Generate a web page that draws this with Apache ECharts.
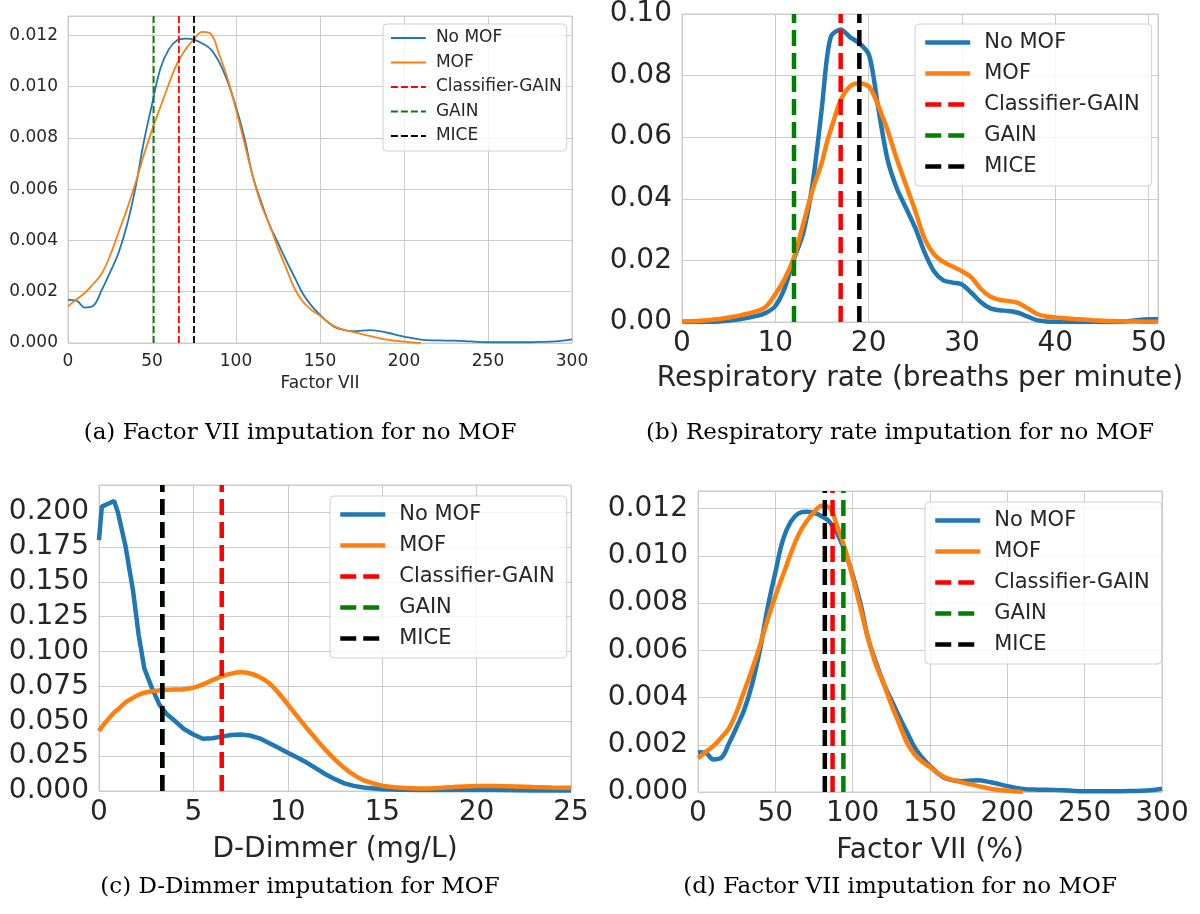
<!DOCTYPE html>
<html>
<head>
<meta charset="utf-8">
<script src="https://cdn.jsdelivr.net/npm/echarts/dist/echarts.min.js"></script>
<style>
  body { margin: 0; background: #fff; }
  .panel { position: absolute; width: 600px; height: 457px; }
</style>
</head>
<body>
<div id="chartA" class="panel" style="left:0;top:0"></div>
<div id="chartB" class="panel" style="left:600px;top:0"></div>
<div id="chartC" class="panel" style="left:0;top:457px"></div>
<div id="chartD" class="panel" style="left:600px;top:457px"></div>
<script>
// ---- data ----
var curveNames = ['No MOF', 'MOF'];
var methodNames = ['Classifier-GAIN', 'GAIN', 'MICE'];

// Factor VII density (panels a and d)
var factorX = [0, 5, 10, 15, 20, 25, 30, 35, 40, 45, 50, 55, 60, 65, 70, 75, 80, 85, 90, 95, 100, 105, 110, 115, 120, 125, 130, 135, 140, 145, 150, 155, 160, 170, 180, 190, 200, 210, 220, 230, 240, 250, 260, 270, 280, 290, 300];
var factorNoMof = [0.00168, 0.00165, 0.00138, 0.00145, 0.00205, 0.00275, 0.0035, 0.00457, 0.0060, 0.0078, 0.0093, 0.0107, 0.01145, 0.0118, 0.01187, 0.01183, 0.01168, 0.01145, 0.01095, 0.0102, 0.0092, 0.0080, 0.0065, 0.0055, 0.0046, 0.0039, 0.0032, 0.00255, 0.0019, 0.00145, 0.0011, 0.0008, 0.00058, 0.00046, 0.0005, 0.0004, 0.00025, 0.00013, 0.0001, 0.00009, 0.00006, 0.00003, 0.00003, 0.00003, 0.00004, 0.00006, 0.00014];
var factorMof = [0.00143, 0.0017, 0.00195, 0.0023, 0.0027, 0.0034, 0.0043, 0.0052, 0.0062, 0.0073, 0.0083, 0.0092, 0.0101, 0.0109, 0.01145, 0.01185, 0.01213, 0.01205, 0.01125, 0.0103, 0.0091, 0.0078, 0.0065, 0.0054, 0.0046, 0.0037, 0.0029, 0.0021, 0.0016, 0.00128, 0.00106, 0.0008, 0.00061, 0.00042, 0.00027, 0.00013, 0.00005, 0.0, null, null, null, null, null, null, null, null, null];

// Respiratory rate density (panel b)
var respX = [0, 2, 4, 6, 8, 9, 10, 11, 12, 13, 14, 15, 15.5, 16, 17, 18, 19, 20, 20.5, 21, 22, 23, 24, 25, 26, 27, 28, 29, 30, 31, 32, 33, 34, 35, 36, 37, 38, 39, 40, 42, 44, 46, 48, 50, 51];
var respNoMof = [0, 0, 0.0002, 0.0008, 0.002, 0.003, 0.0052, 0.011, 0.0205, 0.029, 0.045, 0.07, 0.085, 0.093, 0.095, 0.0925, 0.0905, 0.087, 0.08, 0.07, 0.053, 0.0435, 0.037, 0.0305, 0.0225, 0.0165, 0.0135, 0.0128, 0.0122, 0.0095, 0.0065, 0.0045, 0.0038, 0.0036, 0.003, 0.0018, 0.0006, 0.0002, 0.0001, 0, 0, 0, 0.0003, 0.0009, 0.0009];
var respMof = [0.0002, 0.0004, 0.001, 0.002, 0.0035, 0.005, 0.009, 0.014, 0.021, 0.032, 0.043, 0.052, 0.058, 0.063, 0.072, 0.0765, 0.0775, 0.0765, 0.074, 0.0705, 0.0625, 0.053, 0.0445, 0.036, 0.027, 0.022, 0.0195, 0.018, 0.0165, 0.0145, 0.0108, 0.0083, 0.0072, 0.0068, 0.0062, 0.0045, 0.0027, 0.0018, 0.0015, 0.001, 0.0006, 0.0003, 0.0002, 0.0001, 0.0001];

// D-Dimmer density (panel c)
var ddX = [0, 0.15, 0.8, 1.0, 1.4, 1.8, 2.1, 2.4, 2.8, 3.2, 3.6, 4, 4.5, 5, 5.5, 6, 6.5, 7, 7.5, 8, 8.5, 9, 9.5, 10, 10.5, 11, 11.5, 12, 12.5, 13, 13.5, 14, 15, 16, 17, 18, 19, 20, 21, 22, 23, 24, 25];
var ddNoMof = [0.18, 0.204, 0.208, 0.2, 0.176, 0.144, 0.112, 0.088, 0.074, 0.062, 0.055, 0.0505, 0.0445, 0.0405, 0.0375, 0.0378, 0.039, 0.0402, 0.0406, 0.0398, 0.0378, 0.0345, 0.031, 0.0275, 0.024, 0.0204, 0.0162, 0.012, 0.0085, 0.0055, 0.0037, 0.0025, 0.0013, 0.0009, 0.0007, 0.0007, 0.0008, 0.0008, 0.0007, 0.0005, 0.0004, 0.0003, 0.0003];
var ddMof = [0.0431, 0.046, 0.0563, 0.0585, 0.0635, 0.0668, 0.069, 0.0705, 0.0716, 0.0722, 0.0726, 0.0728, 0.073, 0.0742, 0.0765, 0.0795, 0.0822, 0.0842, 0.0851, 0.0843, 0.0818, 0.0775, 0.0705, 0.0622, 0.0535, 0.0452, 0.0372, 0.0295, 0.0225, 0.0165, 0.0115, 0.0078, 0.0038, 0.0023, 0.0018, 0.0022, 0.0031, 0.0036, 0.0035, 0.0032, 0.0028, 0.0025, 0.0023];

// imputed values, order = methodNames
var factorImpA = [66, 51, 75];
var respImp = [17, 12, 19];
var ddImp = [6.5, 3.35, 3.35];
var factorImpD = [87, 94, 82];

// ---- styling ----
var curveColors = ['#1f77b4', '#ff7f0e'];
var methodColors = ['#ff0000', '#008000', '#000000'];

function pairs(xs, ys) {
    var out = [];
    for (var i = 0; i < xs.length; i++) {
        if (ys[i] !== null) out.push([xs[i], ys[i]]);
    }
    return out;
}

function buildOption(c) {
    var series = [];
    [c.blue, c.orange].forEach(function (ys, i) {
        series.push({
            name: curveNames[i],
            type: 'line',
            data: pairs(c.xs, ys),
            showSymbol: false, symbol: 'none',
            smooth: c.smooth[i],
            lineStyle: { color: curveColors[i], width: c.lineWidth },
            itemStyle: { color: curveColors[i] }
        });
    });
    c.imp.forEach(function (v, i) {
        series.push({
            name: methodNames[i],
            type: 'line',
            data: [[v, 0], [v, c.yMax]],
            showSymbol: false, symbol: 'none',
            lineStyle: { color: methodColors[i], width: c.lineWidth, type: c.dash },
            itemStyle: { color: methodColors[i] }
        });
    });
    return {
        animation: false,
        title: {
            text: c.caption,
            left: 'center',
            top: c.captionTop,
            textStyle: { fontFamily: 'DejaVu Serif', fontWeight: 'normal', fontSize: 23, color: '#000' }
        },
        grid: {
            left: c.grid[0], top: c.grid[1], width: c.grid[2], height: c.grid[3],
            show: true, borderColor: '#cccccc', borderWidth: 1, backgroundColor: '#fff'
        },
        legend: {
            data: curveNames.concat(methodNames),
            orient: 'vertical',
            left: c.legend.left, top: c.legend.top,
            padding: c.legend.padding,
            itemWidth: c.legend.itemWidth,
            itemHeight: 10,
            itemGap: c.legend.itemGap,
            // hide the marker dot, keep only the line sample
            itemStyle: { color: 'rgba(0,0,0,0)', borderColor: 'rgba(0,0,0,0)', borderWidth: 0, opacity: 0 },
            lineStyle: { width: c.lineWidth },
            backgroundColor: 'rgba(255,255,255,0.8)',
            borderColor: '#d0d0d0', borderWidth: 1, borderRadius: 4,
            textStyle: {
                fontFamily: 'DejaVu Sans', fontSize: c.legend.fontSize, color: '#262626',
                lineHeight: c.legend.lineHeight, padding: [0, 0, 0, c.legend.textGap]
            }
        },
        xAxis: {
            type: 'value', min: 0, max: c.xMax, interval: c.xInterval,
            name: c.xName, nameLocation: 'middle', nameGap: c.nameGap,
            nameTextStyle: { fontFamily: 'DejaVu Sans', fontSize: c.font, color: '#262626' },
            axisLine: { show: false }, axisTick: { show: false },
            axisLabel: { fontFamily: 'DejaVu Sans', fontSize: c.font, color: '#262626', margin: c.xMargin, showMaxLabel: c.showMaxX },
            splitLine: { show: true, lineStyle: { color: '#cccccc', width: 1 } }
        },
        yAxis: {
            type: 'value', min: 0, max: c.yMax, interval: c.yInterval,
            axisLine: { show: false }, axisTick: { show: false },
            axisLabel: {
                fontFamily: 'DejaVu Sans', fontSize: c.font, color: '#262626', margin: 10, showMaxLabel: c.showMaxY,
                formatter: function (v) { return v.toFixed(c.yDecimals); }
            },
            splitLine: { show: true, lineStyle: { color: '#cccccc', width: 1 } }
        },
        series: series
    };
}

var bigLegend = function (left, top) {
    return { left: left, top: top, padding: [6, 12, 7, 8], itemWidth: 45, itemGap: 6, fontSize: 21, lineHeight: 25, textGap: 9 };
};

var panels = [
    {
        id: 'chartA', grid: [68, 16, 504, 327],
        xs: factorX, blue: factorNoMof, orange: factorMof, smooth: [0.4, 0.4], imp: factorImpA,
        xMax: 300, xInterval: 50, showMaxX: true, yMax: 0.01275, yInterval: 0.002, yDecimals: 3, showMaxY: false,
        font: 17, xName: 'Factor VII', nameGap: 31, xMargin: 10,
        lineWidth: 1.8, dash: [7, 3],
        legend: { left: 383, top: 24, padding: [4, 5, 5, 7], itemWidth: 35, itemGap: 4.5, fontSize: 17, lineHeight: 20, textGap: 5 },
        caption: '(a) Factor VII imputation for no MOF', captionTop: 417
    },
    {
        id: 'chartB', grid: [82, 14, 476, 308],
        xs: respX, blue: respNoMof, orange: respMof, smooth: [0.25, 0.3], imp: respImp,
        xMax: 51, xInterval: 10, showMaxX: false, yMax: 0.1, yInterval: 0.02, yDecimals: 2, showMaxY: true,
        font: 28, xName: 'Respiratory rate (breaths per minute)', nameGap: 43, xMargin: 8,
        lineWidth: 4.5, dash: [16, 7],
        legend: bigLegend(315, 24),
        caption: '(b) Respiratory rate imputation for no MOF', captionTop: 417
    },
    {
        id: 'chartC', grid: [99, 28, 472, 306],
        xs: ddX, blue: ddNoMof, orange: ddMof, smooth: [false, 0.3], imp: ddImp,
        xMax: 25, xInterval: 5, showMaxX: true, yMax: 0.2195, yInterval: 0.025, yDecimals: 3, showMaxY: false,
        font: 28, xName: 'D-Dimmer (mg/L)', nameGap: 45, xMargin: 8,
        lineWidth: 4.5, dash: [16, 7],
        legend: bigLegend(330, 39),
        caption: '(c) D-Dimmer imputation for MOF', captionTop: 414
    },
    {
        id: 'chartD', grid: [98, 34, 464, 301],
        xs: factorX, blue: factorNoMof, orange: factorMof, smooth: [0.4, 0.4], imp: factorImpD,
        xMax: 300, xInterval: 50, showMaxX: true, yMax: 0.01275, yInterval: 0.002, yDecimals: 3, showMaxY: false,
        font: 28, xName: 'Factor VII (%)', nameGap: 45, xMargin: 8,
        lineWidth: 4.5, dash: [16, 7],
        legend: bigLegend(325, 45),
        caption: '(d) Factor VII imputation for no MOF', captionTop: 414
    }
];

panels.forEach(function (p) {
    var chart = echarts.init(document.getElementById(p.id));
    chart.setOption(buildOption(p));
});
</script>
</body>
</html>
